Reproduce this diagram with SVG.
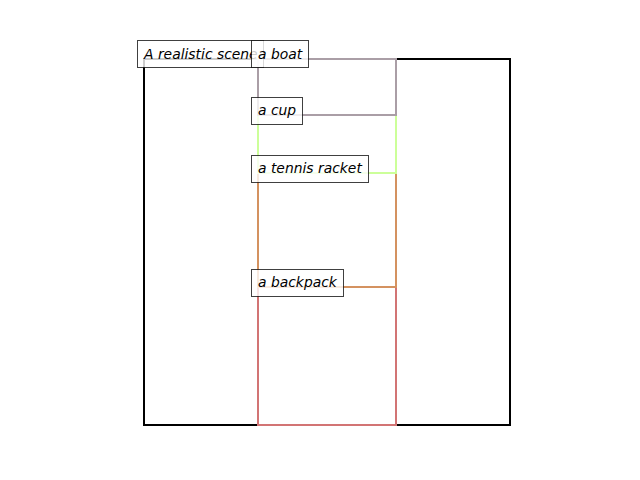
<svg xmlns="http://www.w3.org/2000/svg" width="640" height="480" viewBox="0 0 640 480">
<style>
.bx{fill:none;stroke-width:2}
.lb rect{fill:#ffffff;fill-opacity:0.8;stroke:#000000;stroke-opacity:0.75;stroke-width:1}
.lb text{font-family:"DejaVu Sans",sans-serif;font-style:italic;font-size:13.89px;fill:#000}
</style>
<rect width="640" height="480" fill="#ffffff"/>
<g id="scene"><rect class="bx" x="144" y="59" width="366" height="366" stroke="#000000"/></g>
<g id="backpack"><rect class="bx" x="258" y="287" width="138" height="138" stroke="#d27474"/></g>
<g id="racket"><rect class="bx" x="258" y="173" width="138" height="114" stroke="#d49260"/></g>
<g id="cup"><rect class="bx" x="258" y="115" width="138" height="58" stroke="#ccff99"/></g>
<g id="boat"><rect class="bx" x="258" y="59" width="138" height="56" stroke="#aa9ea6"/></g>
<g id="connectors"></g>
<g id="label-scene" class="lb"><rect x="137.5" y="40.5" width="126" height="27"/><text x="144" y="59">A realistic scene</text></g>
<g id="label-boat" class="lb"><rect x="251.5" y="40.5" width="57" height="27"/><text x="258" y="59">a boat</text></g>
<g id="label-cup" class="lb"><rect x="251.5" y="97.5" width="51" height="27"/><text x="258" y="115">a cup</text></g>
<g id="label-racket" class="lb"><rect x="251.5" y="155.5" width="117" height="27"/><text x="258" y="173">a tennis racket</text></g>
<g id="label-backpack" class="lb"><rect x="251.5" y="269.5" width="92" height="27"/><text x="258" y="287">a backpack</text></g>
</svg>
